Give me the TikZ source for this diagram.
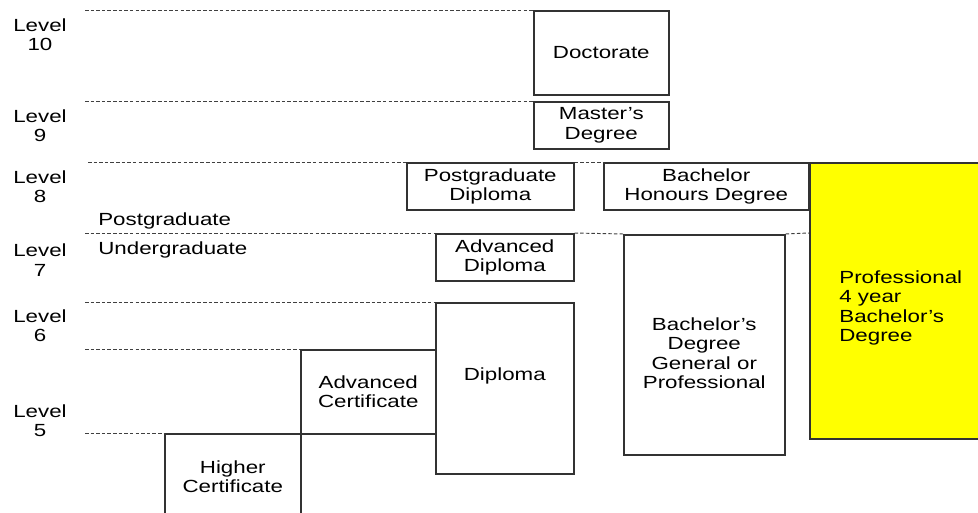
\documentclass[tikz,border=0pt]{standalone}
\usepackage{fontspec}
\setmainfont{Liberation Sans}[FakeStretch=1.27]
\usepackage{tikz}
\usetikzlibrary{positioning}

\definecolor{profyellow}{RGB}{255,255,0}
\definecolor{boxline}{RGB}{50,50,50}

\begin{document}
\begin{tikzpicture}[
    x=0.02cm, y=-0.02cm,
    every node/.style={font=\fontsize{10}{11}\selectfont, text=black},
    qual/.style={draw=boxline, line width=0.9pt, fill=white, align=center, anchor=north west, inner sep=1pt},
    lvl/.style={align=center},
    guide/.style={draw=black!75, line width=0.55pt, dash pattern=on 2pt off 1.2pt},
]
  \clip (0,0) rectangle (978,513);
  % level guides
  \coordinate (g10) at (85,10);
  \coordinate (g9) at (85,101);
  \coordinate (g8) at (88,162);
  \coordinate (g7) at (85,233);
  \coordinate (g6) at (85,302);
  \coordinate (g5) at (85,349);
  \coordinate (g4) at (85,433);

  % qualification boxes
  \node[qual, minimum width=2.7cm, minimum height=1.68cm] (doc) at (533,10) {Doctorate};
  \node[qual, minimum width=2.7cm, minimum height=0.94cm] (mast) at (533,101) {Master's\\Degree};
  \node[qual, minimum width=3.34cm, minimum height=0.94cm] (pgdip) at (406,162) {Postgraduate\\Diploma};
  \node[qual, minimum width=4.1cm, minimum height=0.94cm] (bhons) at (603,162) {Bachelor\\Honours Degree};
  \node[qual, minimum width=2.76cm, minimum height=0.94cm] (advdip) at (435,233) {Advanced\\Diploma};
  \node[qual, minimum width=2.76cm, minimum height=3.42cm, text depth=0.55cm] (dip) at (435,302) {Diploma};
  \node[qual, minimum width=2.7cm, minimum height=1.68cm] (advcert) at (300,349) {Advanced\\Certificate};
  \node[qual, minimum width=2.72cm, minimum height=1.72cm] (highcert) at (164,433) {Higher\\Certificate};
  \node[qual, minimum width=3.22cm, minimum height=4.4cm] (bgen) at (623,234) {\rule{0pt}{17pt}Bachelor's\\Degree\\General or\\Professional};
  \node[qual, fill=profyellow, align=left, minimum width=3.64cm, minimum height=5.52cm] (prof) at (809,162) {\rule{0pt}{15.5pt}Professional\\4 year\\Bachelor's\\Degree};

  \path[guide] (g10) -- (doc.north west);
  \path[guide] (g9) -- (mast.north west);
  \path[guide] (g8) -- (pgdip.north west);
  \path[guide] (pgdip.north east) -- (bhons.north west);
  \path[guide] (g7) -- (advdip.north west);
  \path[guide] (advdip.north east) -- (bgen.north west);
  \path[guide] (bgen.north east) -- (g7 -| prof.west);
  \path[guide] (g6) -- (dip.north west);
  \path[guide] (g5) -- (advcert.north west);
  \path[guide] (g4) -- (highcert.north west);

  % levels
  \node[lvl] (lv10) at (40,35) {Level\\10};
  \node[lvl] (lv9) at (40,126) {Level\\9};
  \node[lvl] (lv8) at (40,187) {Level\\8};
  \node[lvl] (lv7) at (40,260) {Level\\7};
  \node[lvl] (lv6) at (40,326) {Level\\6};
  \node[lvl] (lv5) at (40,421) {Level\\5};
  \node[anchor=west, inner sep=0pt] (pg) at (98,221) {Postgraduate};
  \node[anchor=west, inner sep=0pt] (ug) at (98,250) {Undergraduate};
\end{tikzpicture}
\end{document}
